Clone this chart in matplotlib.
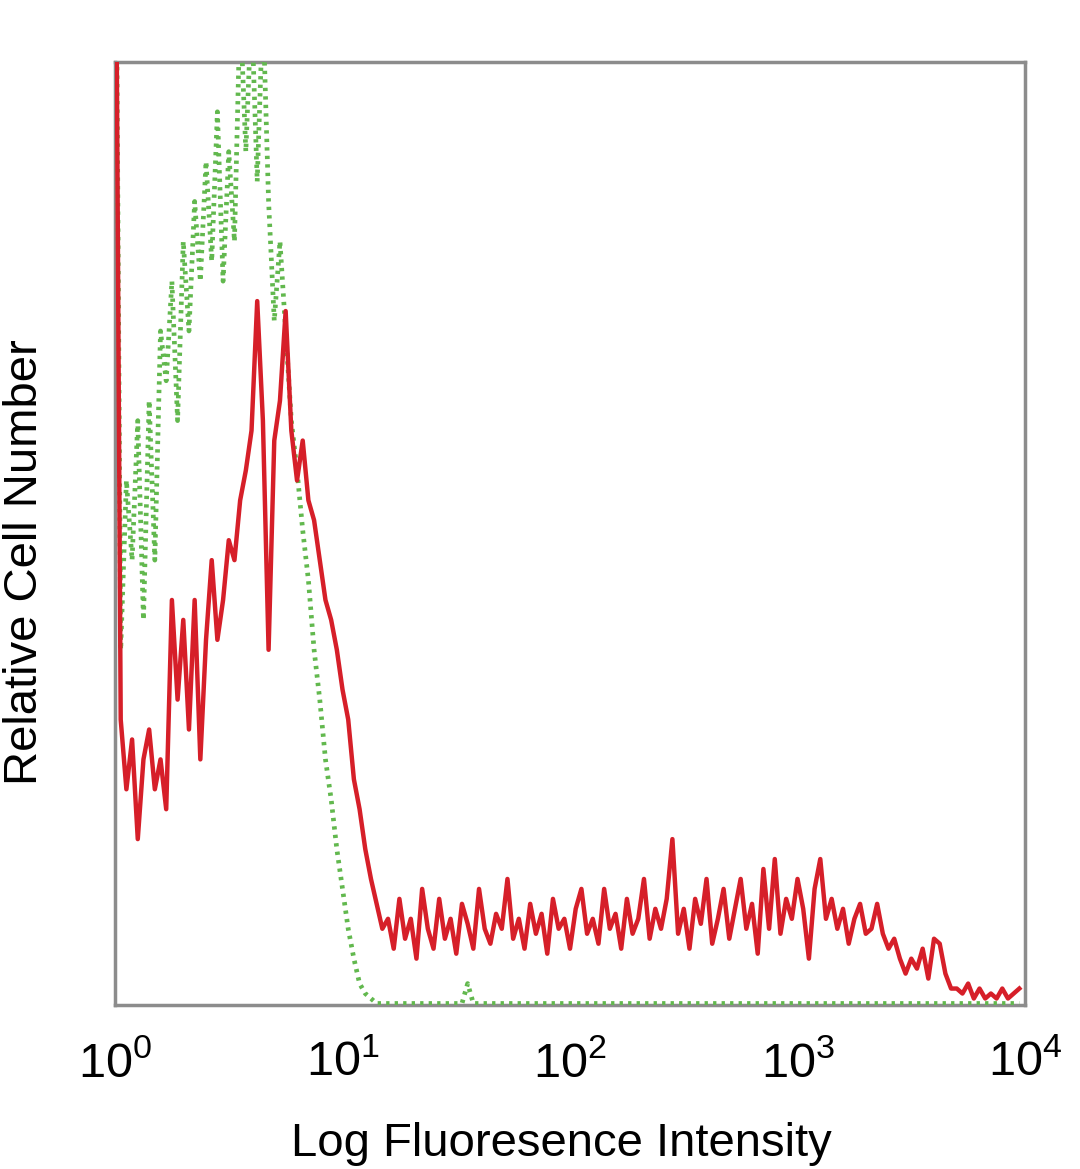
import numpy as np
import matplotlib
matplotlib.use("Agg")
import matplotlib.pyplot as plt
from matplotlib.ticker import FixedLocator, FixedFormatter

### Font setup
plt.rcParams['font.family'] = ['Liberation Sans', 'DejaVu Sans']
plt.rcParams['mathtext.fontset'] = 'custom'
plt.rcParams['mathtext.rm'] = 'Liberation Sans'
plt.rcParams['mathtext.default'] = 'rm'

### Histogram counts, one value per channel (40 channels per decade, starting at 10^0)
red_counts = [
    250, 57, 43, 53, 33, 49, 55, 43, 49, 39,
    81, 61, 77, 55, 81, 49, 73, 89, 73, 81,
    93, 89, 101, 107, 115, 141, 117, 71, 113, 121,
    139, 115, 105, 113, 101, 97, 89, 81, 77, 71,
    63, 57, 45, 39, 31, 25, 20, 15, 17, 11,
    21, 13, 17, 9, 23, 15, 11, 21, 13, 17,
    10, 20, 16, 11, 23, 15, 12, 18, 15, 25,
    13, 17, 11, 20, 14, 18, 10, 21, 15, 17,
    11, 19, 23, 14, 17, 12, 23, 15, 18, 11,
    21, 14, 17, 25, 13, 19, 15, 21, 33, 14,
    19, 11, 21, 16, 25, 12, 17, 23, 13, 19,
    25, 15, 20, 10, 27, 15, 29, 14, 21, 17,
    25, 19, 9, 23, 29, 17, 21, 15, 19, 12,
    17, 20, 14, 15, 20, 14, 11, 13, 9, 6,
    9, 7, 11, 5, 13, 12, 6, 3, 3, 2,
    4, 1, 3, 1, 2, 1, 3, 1, 2, 3,
]

isotype_counts = [
    250, 71, 105, 89, 117, 77, 121, 89, 135, 125,
    145, 117, 153, 135, 161, 145, 169, 149, 179, 145,
    171, 153, 200, 171, 200, 165, 200, 161, 137, 153,
    135, 117, 107, 95, 85, 71, 61, 49, 41, 31,
    23, 15, 9, 4, 2, 1, 0, 0, 0, 0,
    0, 0, 0, 0, 0, 0, 0, 0, 0, 0,
    0, 0, 4, 0, 0, 0, 0, 0, 0, 0,
    0, 0, 0, 0, 0, 0, 0, 0, 0, 0,
    0, 0, 0, 0, 0, 0, 0, 0, 0, 0,
    0, 0, 0, 0, 0, 0, 0, 0, 0, 0,
    0, 0, 0, 0, 0, 0, 0, 0, 0, 0,
    0, 0, 0, 0, 0, 0, 0, 0, 0, 0,
    0, 0, 0, 0, 0, 0, 0, 0, 0, 0,
    0, 0, 0, 0, 0, 0, 0, 0, 0, 0,
    0, 0, 0, 0, 0, 0, 0, 0, 0, 0,
    0, 0, 0, 0, 0, 0, 0, 0, 0, 0,
]

tick_values = [1, 10, 100, 1000, 10000]
tick_labels = ['$10^{0}$', '$10^{1}$', '$10^{2}$', '$10^{3}$', '$10^{4}$']

channels = 10 ** (np.arange(len(red_counts)) / 40)

fig = plt.figure(figsize=(10.8, 11.69), dpi=100)
ax = fig.add_axes([0.1065, 0.1403, 0.8426, 0.8067])

ax.plot(channels, isotype_counts, color='#62b84e', lw=3.4,
        linestyle=(0, (0.7, 1.1)), zorder=3)
ax.plot(channels, red_counts, color='#d61f29', lw=3.2, zorder=4)

ax.set_xscale('log')
ax.set_xlim(1, 10000)
ax.set_ylim(-0.3, 189)

ax.xaxis.set_major_locator(FixedLocator(tick_values))
ax.xaxis.set_major_formatter(FixedFormatter(tick_labels))
ax.xaxis.set_minor_locator(FixedLocator([]))
ax.set_yticks([])
ax.tick_params(axis='x', length=0, pad=26, labelsize=35)

for side in ['top', 'right', 'bottom', 'left']:
    ax.spines[side].set_color('#8c8c8c')
    ax.spines[side].set_linewidth(2.5)

ax.set_xlabel('Log Fluoresence Intensity', fontsize=34)
ax.set_ylabel('Relative Cell Number', fontsize=34)
ax.xaxis.set_label_coords(0.491, -0.124)
ax.yaxis.set_label_coords(-0.075, 0.47)

fig.savefig('out.png', dpi=100)
